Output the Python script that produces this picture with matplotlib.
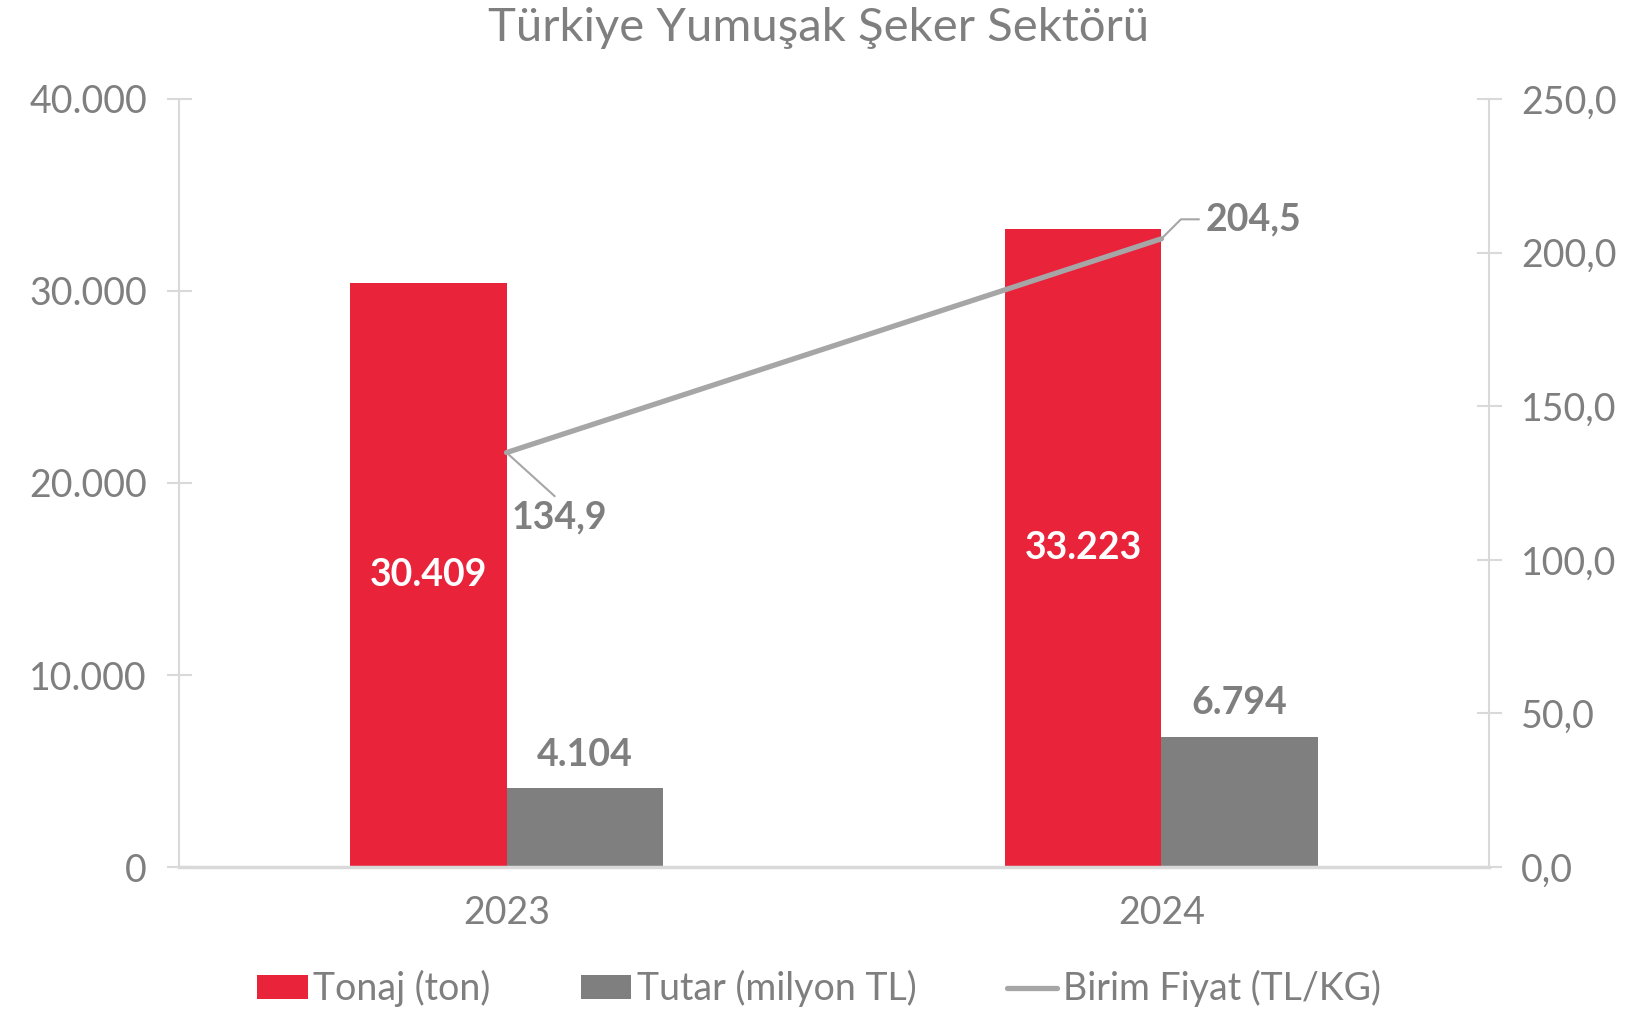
import numpy as np
import matplotlib.pyplot as plt

plt.rcParams['font.family'] = ['Lato', 'DejaVu Sans']

# data
years = ['2023', '2024']
tonaj = [30409, 33223]          # ton
tutar = [4104, 6794]            # milyon TL
birim_fiyat = [134.9, 204.5]    # TL/KG

red = '#E8233A'
dgrey = '#7F7F7F'
lgrey = '#A6A6A6'
axgrey = '#D9D9D9'
txtgrey = '#7F7F7F'
fs = 27

def tr_int(v):
    return '{:,.0f}'.format(v).replace(',', '.')

def tr_dec(v):
    return '{:.1f}'.format(v).replace('.', ',')

fig = plt.figure(figsize=(16.38, 10.13), dpi=100)
ax = fig.add_axes([0.1093, 0.1441, 0.7997, 0.7582])
ax2 = ax.twinx()

x = np.arange(len(years))
w = 0.239
b1 = ax.bar(x - w/2, tonaj, w, color=red, zorder=2, label='Tonaj (ton)')
b2 = ax.bar(x + w/2, tutar, w, color=dgrey, zorder=2, label='Tutar (milyon TL)')

ax.set_xlim(-0.5, 1.5)
ax.set_ylim(0, 40000)
ax.set_yticks(np.arange(0, 40001, 10000))
ax.set_yticklabels([tr_int(v) for v in np.arange(0, 40001, 10000)])
ax.set_xticks(x)
ax.set_xticklabels(years)

ax2.set_ylim(0, 250)
ax2.set_yticks(np.arange(0, 251, 50))
ax2.set_yticklabels([tr_dec(v) for v in np.arange(0, 251, 50)])

for a in (ax, ax2):
    for s in a.spines.values():
        s.set_visible(False)
ax.spines['left'].set_visible(True)
ax.spines['left'].set_color(axgrey)
ax.spines['left'].set_linewidth(1.5)
ax.spines['bottom'].set_visible(True)
ax.spines['bottom'].set_color(axgrey)
ax.spines['bottom'].set_linewidth(2.5)
ax2.spines['right'].set_visible(True)
ax2.spines['right'].set_color(axgrey)
ax2.spines['right'].set_linewidth(1.5)

ax.tick_params(axis='y', direction='inout', length=18, width=1.5, color=axgrey,
               labelsize=fs, labelcolor=txtgrey, pad=14)
ax.tick_params(axis='x', length=0, labelsize=fs, labelcolor=txtgrey, pad=20)
ax2.tick_params(axis='y', direction='inout', length=18, width=1.5, color=axgrey,
                labelsize=fs, labelcolor=txtgrey, pad=14)

# line on secondary axis
ln, = ax2.plot(x, birim_fiyat, color=lgrey, linewidth=3.8, zorder=3,
               solid_capstyle='round', label='Birim Fiyat (TL/KG)')

# bar labels
for xi, v in zip(x, tonaj):
    ax.text(xi - w/2, v/2, tr_int(v), color='white', fontsize=fs, fontweight='bold',
            ha='center', va='center', zorder=4)
for xi, v in zip(x, tutar):
    ax.annotate(tr_int(v), (xi + w/2, v), xytext=(0, 24), textcoords='offset points',
                color=txtgrey, fontsize=fs, fontweight='bold', ha='center', va='center')

# line labels with leader lines
ax2.annotate(tr_dec(birim_fiyat[0]), (x[0], birim_fiyat[0]), xytext=(4, -47),
             textcoords='offset points', color=txtgrey, fontsize=fs, fontweight='bold',
             ha='left', va='center',
             arrowprops=dict(arrowstyle='-', color=lgrey, lw=1.5, shrinkA=2, shrinkB=0,
                             relpos=(0.5, 1.0)))
ax2.annotate(tr_dec(birim_fiyat[1]), (x[1], birim_fiyat[1]), xytext=(32, 14),
             textcoords='offset points', color=txtgrey, fontsize=fs, fontweight='bold',
             ha='left', va='center',
             arrowprops=dict(arrowstyle='-', color=lgrey, lw=1.5, shrinkA=3, shrinkB=0,
                             relpos=(0.0, 0.5),
                             connectionstyle='angle,angleA=0,angleB=45,rad=0'))

fig.suptitle('Türkiye Yumuşak Şeker Sektörü', y=0.993, fontsize=34, color=txtgrey)

fig.legend([b1, b2, ln], ['Tonaj (ton)', 'Tutar (milyon TL)', 'Birim Fiyat (TL/KG)'],
           loc='center', bbox_to_anchor=(0.5, 0.024), ncol=3, frameon=False,
           fontsize=fs, labelcolor=txtgrey, handlelength=1.35, handleheight=0.6,
           handletextpad=0.15, columnspacing=2.4)

fig.savefig('out.png', dpi=100)
